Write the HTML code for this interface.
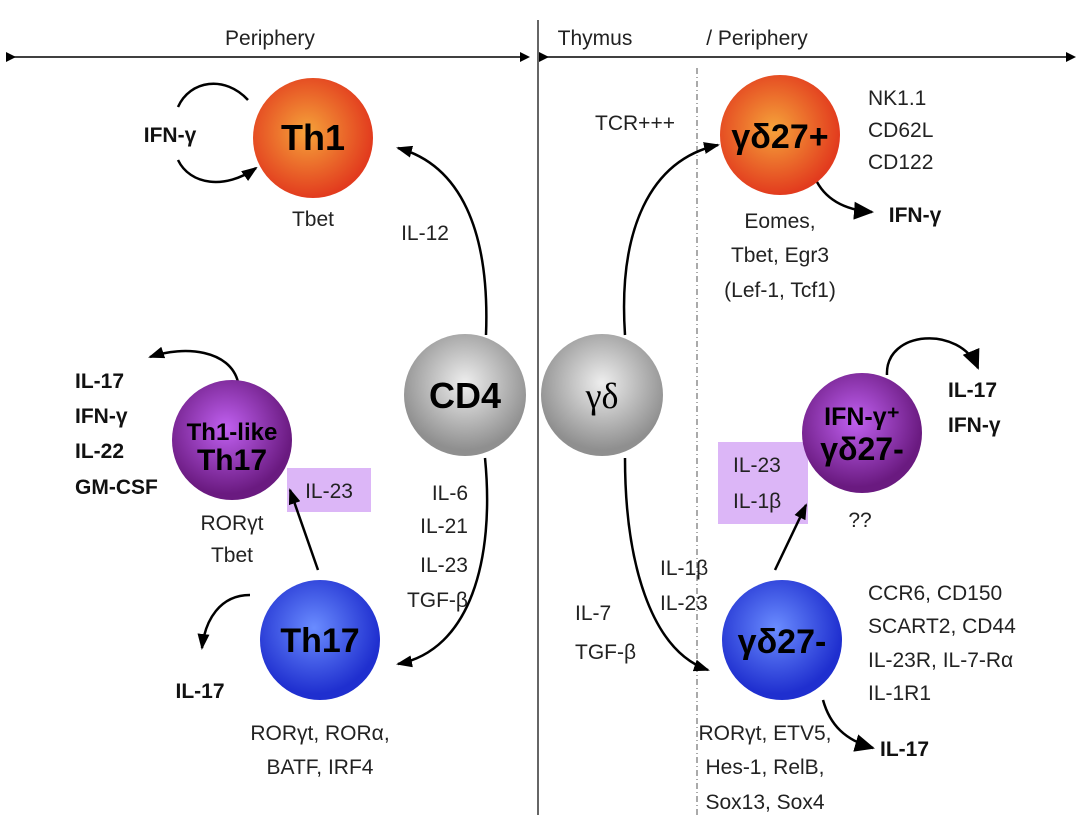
<!DOCTYPE html>
<html><head><meta charset="utf-8"><style>
html,body{margin:0;padding:0;background:#fff;}
svg{display:block;font-family:"Liberation Sans",sans-serif;}
.t{font-size:21px;fill:#222;}
.b{font-size:21px;font-weight:bold;fill:#111;}
</style></head><body>
<svg width="1080" height="839" viewBox="0 0 1080 839" xmlns="http://www.w3.org/2000/svg">
<defs>
<marker id="ah" markerWidth="10" markerHeight="10" refX="8" refY="5" orient="auto" markerUnits="userSpaceOnUse"><path d="M0,0 L10,5 L0,10 z" fill="#000"/></marker>
<marker id="ahb" markerWidth="22" markerHeight="18" refX="18" refY="9" orient="auto" markerUnits="userSpaceOnUse"><path d="M0,0 L20,9 L0,18 z" fill="#000"/></marker>
<marker id="as" markerWidth="16" markerHeight="12" refX="14" refY="6" orient="auto" markerUnits="userSpaceOnUse"><path d="M0,0 L16,6 L0,12 z" fill="#000"/></marker>
<radialGradient id="gOr" cx="45%" cy="45%" r="55%"><stop offset="0" stop-color="#f5a33a"/><stop offset="1" stop-color="#e23b1e"/></radialGradient>
<radialGradient id="gPu" cx="45%" cy="40%" r="55%"><stop offset="0" stop-color="#c060f0"/><stop offset="1" stop-color="#6a1a80"/></radialGradient>
<radialGradient id="gBl" cx="45%" cy="40%" r="55%"><stop offset="0" stop-color="#6a8cff"/><stop offset="1" stop-color="#1f2fcf"/></radialGradient>
<radialGradient id="gGr" cx="50%" cy="40%" r="55%"><stop offset="0" stop-color="#eeeeee"/><stop offset="1" stop-color="#8f8f8f"/></radialGradient>
</defs>

<g>
<line x1="14" y1="57" x2="528" y2="57" stroke="#000" stroke-width="1.5" marker-end="url(#ah)" marker-start="url(#ah)"/>
<text x="270" y="45" class="t" font-size="19" text-anchor="middle">Periphery</text>
</g>
<line x1="538" y1="20" x2="538" y2="815" stroke="#333" stroke-width="1.5"/>
<g>
<line x1="547" y1="57" x2="1074" y2="57" stroke="#000" stroke-width="1.5" marker-end="url(#ah)" marker-start="url(#ah)"/>
<text x="595" y="45" class="t" font-size="19" text-anchor="middle">Thymus</text>
<text x="757" y="45" class="t" font-size="19" text-anchor="middle">/ Periphery</text>
</g>
<line x1="697" y1="68" x2="697" y2="815" stroke="#555" stroke-width="1" stroke-dasharray="6,3,1,3"/>

<rect x="287" y="468" width="84" height="44" fill="#dcb6f7"/>
<text x="329" y="498" class="t" text-anchor="middle">IL-23</text>
<rect x="718" y="442" width="90" height="82" fill="#dcb6f7"/>
<text x="733" y="472" class="t">IL-23</text>
<text x="733" y="508" class="t">IL-1β</text>

<g fill="none" stroke="#000" stroke-width="2.5">
<path d="M248,100 C225,75 190,80 178,107"/>
<path d="M178,160 C190,185 225,190 256,168" marker-end="url(#as)"/>
<path d="M486,335 C490,230 460,165 398,148" marker-end="url(#as)"/>
<path d="M238,382 C230,350 185,345 150,357" marker-end="url(#as)"/>
<path d="M318,570 L290,490" marker-end="url(#as)"/>
<path d="M250,595 C220,595 205,620 202,648" marker-end="url(#as)"/>
<path d="M485,458 C495,560 470,650 398,664" marker-end="url(#as)"/>
<path d="M625,335 C618,230 650,160 718,145" marker-end="url(#as)"/>
<path d="M815,178 C825,200 845,210 872,212" marker-end="url(#ahb)"/>
<path d="M887,375 C885,330 960,325 978,368" marker-end="url(#ahb)"/>
<path d="M775,570 L806,505" marker-end="url(#as)"/>
<path d="M625,458 C625,560 650,650 708,670" marker-end="url(#as)"/>
<path d="M823,700 C830,725 845,740 873,748" marker-end="url(#ahb)"/>
</g>

<g><circle cx="313" cy="138" r="60" fill="url(#gOr)"/><text x="313" y="150" font-size="36" font-weight="bold" text-anchor="middle">Th1</text></g>
<g><circle cx="465" cy="395" r="61" fill="url(#gGr)"/><text x="465" y="408" font-size="36" font-weight="bold" text-anchor="middle">CD4</text></g>
<g><circle cx="232" cy="440" r="60" fill="url(#gPu)"/><text x="232" y="440" font-size="24" font-weight="bold" text-anchor="middle">Th1-like</text><text x="232" y="470" font-size="30" font-weight="bold" text-anchor="middle">Th17</text></g>
<g><circle cx="320" cy="640" r="60" fill="url(#gBl)"/><text x="320" y="652" font-size="34" font-weight="bold" text-anchor="middle">Th17</text></g>
<g><circle cx="602" cy="395" r="61" fill="url(#gGr)"/><text x="602" y="408" font-size="36" text-anchor="middle" font-family="Liberation Serif,serif">γδ</text></g>
<g><circle cx="780" cy="135" r="60" fill="url(#gOr)"/><text x="780" y="148" font-size="34" font-weight="bold" text-anchor="middle">γδ27+</text></g>
<g><circle cx="862" cy="433" r="60" fill="url(#gPu)"/><text x="862" y="425" font-size="25" font-weight="bold" text-anchor="middle">IFN-γ⁺</text><text x="862" y="460" font-size="32" font-weight="bold" text-anchor="middle">γδ27-</text></g>
<g><circle cx="782" cy="640" r="60" fill="url(#gBl)"/><text x="782" y="653" font-size="34" font-weight="bold" text-anchor="middle">γδ27-</text></g>

<text x="170" y="142" class="b" text-anchor="middle">IFN-γ</text>
<text x="313" y="226" class="t" text-anchor="middle">Tbet</text>
<text x="425" y="240" class="t" text-anchor="middle">IL-12</text>
<text x="75" y="388" class="b">IL-17</text>
<text x="75" y="423" class="b">IFN-γ</text>
<text x="75" y="458" class="b">IL-22</text>
<text x="75" y="494" class="b">GM-CSF</text>
<text x="232" y="530" class="t" text-anchor="middle">RORγt</text>
<text x="232" y="562" class="t" text-anchor="middle">Tbet</text>
<text x="200" y="698" class="b" text-anchor="middle">IL-17</text>
<text x="320" y="740" class="t" text-anchor="middle">RORγt, RORα,</text>
<text x="320" y="774" class="t" text-anchor="middle">BATF, IRF4</text>
<text x="468" y="500" class="t" text-anchor="end">IL-6</text>
<text x="468" y="533" class="t" text-anchor="end">IL-21</text>
<text x="468" y="572" class="t" text-anchor="end">IL-23</text>
<text x="468" y="607" class="t" text-anchor="end">TGF-β</text>

<text x="635" y="130" class="t" text-anchor="middle">TCR+++</text>
<text x="868" y="105" class="t">NK1.1</text>
<text x="868" y="137" class="t">CD62L</text>
<text x="868" y="169" class="t">CD122</text>
<text x="915" y="222" class="b" text-anchor="middle">IFN-γ</text>
<text x="780" y="228" class="t" text-anchor="middle">Eomes,</text>
<text x="780" y="262" class="t" text-anchor="middle">Tbet, Egr3</text>
<text x="780" y="297" class="t" text-anchor="middle">(Lef-1, Tcf1)</text>
<text x="948" y="397" class="b">IL-17</text>
<text x="948" y="432" class="b">IFN-γ</text>
<text x="860" y="527" class="t" text-anchor="middle">??</text>
<text x="660" y="575" class="t">IL-1β</text>
<text x="660" y="610" class="t">IL-23</text>
<text x="575" y="620" class="t">IL-7</text>
<text x="575" y="659" class="t">TGF-β</text>
<text x="868" y="600" class="t">CCR6, CD150</text>
<text x="868" y="633" class="t">SCART2, CD44</text>
<text x="868" y="667" class="t">IL-23R, IL-7-Rα</text>
<text x="868" y="700" class="t">IL-1R1</text>
<text x="880" y="756" class="b">IL-17</text>
<text x="765" y="740" class="t" text-anchor="middle">RORγt, ETV5,</text>
<text x="765" y="774" class="t" text-anchor="middle">Hes-1, RelB,</text>
<text x="765" y="809" class="t" text-anchor="middle">Sox13, Sox4</text>
</svg>
</body></html>
